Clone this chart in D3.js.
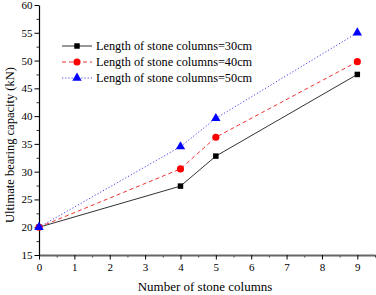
<!DOCTYPE html>
<html>
<head>
<meta charset="utf-8">
<script src="https://cdn.jsdelivr.net/npm/d3@7"></script>
<style>
  body { margin: 0; background: #fff; }
  text { font-family: "Liberation Serif", "Times New Roman", serif; }
</style>
</head>
<body>
<div id="chart"></div>
<script>
// data
var columns = [0, 4, 5, 9];
var len30 = [20, 27.4, 32.8, 47.5];
var len40 = [20, 30.5, 36.2, 49.8];
var len50 = [20, 34.5, 39.6, 55.0];
var seriesNames = ["Length of stone columns=30cm", "Length of stone columns=40cm", "Length of stone columns=50cm"];
var xTicks = [0, 1, 2, 3, 4, 5, 6, 7, 8, 9];
var yTicks = [15, 20, 25, 30, 35, 40, 45, 50, 55, 60];

var W = 376, H = 295;
var margin = {top: 5, right: 1, bottom: 40, left: 39};
var width = W - margin.left - margin.right,
    height = H - margin.top - margin.bottom;

var svg = d3.select("#chart").append("svg")
    .attr("width", W).attr("height", H)
  .append("g")
    .attr("transform", "translate(" + margin.left + "," + margin.top + ")");

var x = d3.scaleLinear().domain([0, 9.5]).range([0, width]);
var y = d3.scaleLinear().domain([15, 60]).range([height, 0]);

// minor ticks
svg.append("g")
    .attr("transform", "translate(0," + height + ")")
    .call(d3.axisBottom(x).tickValues(d3.range(0.5, 9.6, 1)).tickSize(2.5).tickFormat(""))
    .call(function(g){ g.select(".domain").remove() })
    .selectAll("line").attr("stroke", "#333");
svg.append("g")
    .call(d3.axisLeft(y).tickValues(d3.range(17.5, 60, 5)).tickSize(2.5).tickFormat(""))
    .call(function(g){ g.select(".domain").remove() })
    .selectAll("line").attr("stroke", "#333");

// main axes
var xAxis = svg.append("g")
    .attr("transform", "translate(0," + height + ")")
    .call(d3.axisBottom(x).tickValues(xTicks).tickSize(4.5).tickSizeOuter(0).tickPadding(4));
xAxis.select(".domain").attr("stroke", "#666").attr("stroke-width", 2);
xAxis.selectAll("text").attr("font-size", 11).attr("fill", "#000");

var yAxis = svg.append("g")
    .call(d3.axisLeft(y).tickValues(yTicks).tickSize(4.5).tickSizeOuter(0).tickPadding(2));
yAxis.select(".domain").attr("stroke", "#000").attr("stroke-width", 1.2);
yAxis.selectAll("text").attr("font-size", 11).attr("fill", "#000");

// axis titles
svg.append("text")
    .attr("x", width / 2 - 2).attr("y", height + 36)
    .attr("text-anchor", "middle").attr("font-size", 13)
    .text("Number of stone columns");
svg.append("text")
    .attr("transform", "translate(" + (-25) + "," + (height / 2 + 15) + ") rotate(-90)")
    .attr("text-anchor", "middle").attr("font-size", 12.5)
    .text("Ultimate bearing capacity (kN)");

var series = [
  {name: seriesNames[0], vals: len30, color: "#000000", lineColor: "#333", dash: null, sym: d3.symbolSquare, size: 30},
  {name: seriesNames[1], vals: len40, color: "#ff0000", lineColor: "#ee3333", dash: "4,3", sym: d3.symbolCircle, size: 40},
  {name: seriesNames[2], vals: len50, color: "#0000ff", lineColor: "#4444ee", dash: "1.2,2", sym: d3.symbolTriangle, size: 38}
];

var line = d3.line()
    .x(function(d){ return x(d[0]) })
    .y(function(d){ return y(d[1]) });

series.forEach(function(s){
  var pts = columns.map(function(c, i){ return [c, s.vals[i]] });
  svg.append("path")
      .datum(pts)
      .attr("fill", "none")
      .attr("stroke", s.lineColor)
      .attr("stroke-width", 1)
      .attr("stroke-dasharray", s.dash)
      .attr("d", line);
  svg.selectAll(null)
      .data(pts)
      .enter()
      .append("path")
        .attr("transform", function(d){ return "translate(" + x(d[0]) + "," + y(d[1]) + ")" })
        .attr("d", d3.symbol().type(s.sym).size(s.size))
        .attr("fill", s.color);
});

// legend
var legend = svg.append("g").attr("transform", "translate(23,41)");
series.forEach(function(s, i){
  var g = legend.append("g").attr("transform", "translate(0," + (i * 16) + ")");
  g.append("line")
      .attr("x1", 0).attr("x2", 30).attr("y1", 0).attr("y2", 0)
      .attr("stroke", s.lineColor).attr("stroke-width", 1)
      .attr("stroke-dasharray", s.dash);
  g.append("path")
      .attr("transform", "translate(15,0)")
      .attr("d", d3.symbol().type(s.sym).size(s.size))
      .attr("fill", s.color);
  g.append("text")
      .attr("x", 34).attr("y", 4)
      .attr("font-size", 12.3)
      .text(s.name);
});
</script>
</body>
</html>
